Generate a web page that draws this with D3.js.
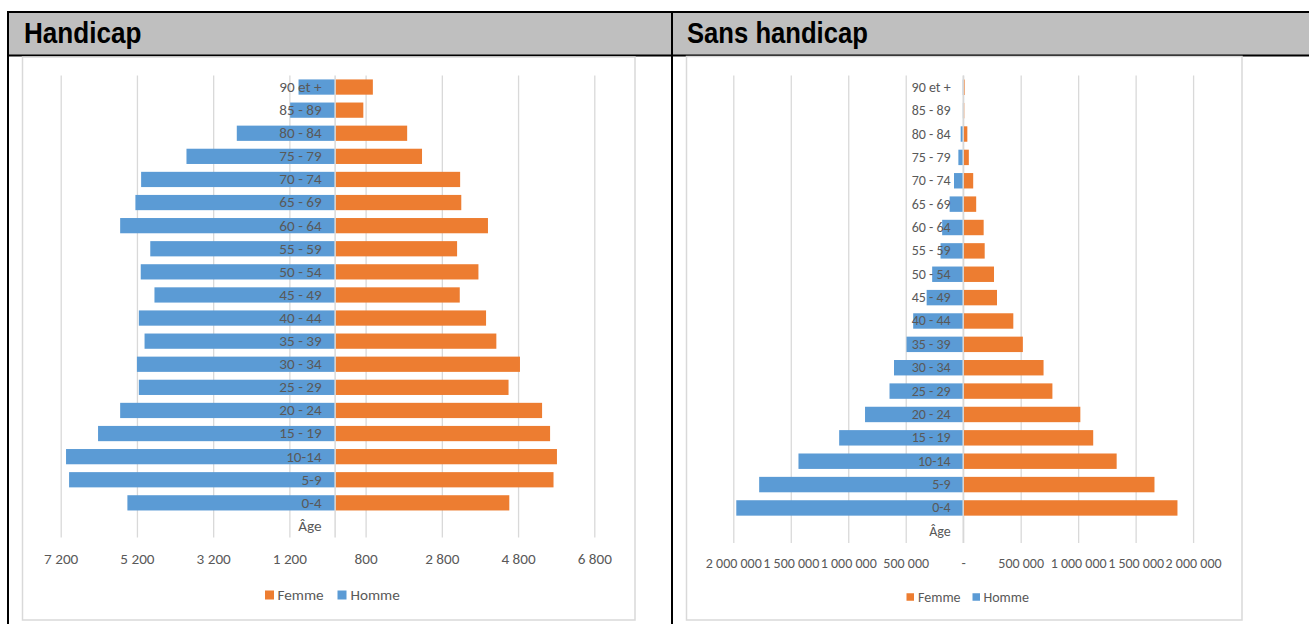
<!DOCTYPE html>
<html><head><meta charset="utf-8">
<script src="https://cdn.jsdelivr.net/npm/d3@7"></script>
<style>body{margin:0;background:#fff} svg{display:block}</style>
</head><body><svg id="c" width="1309" height="624"></svg>
<script>
const categories = ["90 et +","85 - 89","80 - 84","75 - 79","70 - 74","65 - 69","60 - 64","55 - 59","50 - 54","45 - 49","40 - 44","35 - 39","30 - 34","25 - 29","20 - 24","15 - 19","10-14","5-9","0-4"];
const axisTitle = "Âge";
const handicapHomme = [960,1180,2580,3900,5090,5240,5640,4850,5100,4740,5150,5000,5200,5150,5640,6220,7060,6980,5450];
const handicapFemme = [990,740,1890,2280,3280,3310,4010,3200,3760,3270,3960,4230,4850,4550,5430,5640,5820,5730,4570];
const sansHomme = [4000,3000,22000,42000,80000,118000,183000,197000,270000,318000,435000,493000,602000,641000,854000,1079000,1433000,1775000,1974000];
const sansFemme = [12000,9000,36000,49000,87000,113000,178000,187000,268000,294000,436000,519000,699000,776000,1019000,1131000,1335000,1664000,1864000];
const handicapTicks = [-7200,-5200,-3200,-1200,800,2800,4800,6800];
const sansTicks = [-2000000,-1500000,-1000000,-500000,0,500000,1000000,1500000,2000000];
const legendLabels = ["Femme","Homme"];
const titles = ["Handicap","Sans handicap"];

const FEMME = "#ED7D31", HOMME = "#5B9BD5", TXT = "#595959", GRID = "#D9D9D9";
const FONT = "Carlito, Calibri, Lato, sans-serif";
const svg = d3.select("#c");
const loc = d3.formatLocale({decimal: ",", thousands: " ", grouping: [3], currency: ["", ""]});
const fmt = loc.format(",d");

// table frame
svg.append("rect").attr("x", 8).attr("y", 12).attr("width", 1301).attr("height", 43.5).attr("fill", "#BFBFBF");
[[7, 12, 1309, 12], [7, 55.5, 1309, 55.5], [8, 11, 8, 624], [672, 11, 672, 624]].forEach(l =>
  svg.append("line").attr("x1", l[0]).attr("y1", l[1]).attr("x2", l[2]).attr("y2", l[3])
    .attr("stroke", "#000").attr("stroke-width", 2));
[[24, 0.87], [687, 0.855]].forEach((p, i) =>
  svg.append("text").attr("transform", `translate(${p[0]},42.5) scale(${p[1]},1)`)
    .attr("font-family", "'Liberation Sans', Arial, sans-serif").attr("font-weight", "bold")
    .attr("font-size", 30).attr("fill", "#000").text(titles[i]));

function chart(cfg) {
  const g = svg.append("g");
  g.append("rect").attr("x", cfg.box[0]).attr("y", cfg.box[1])
    .attr("width", cfg.box[2] - cfg.box[0]).attr("height", cfg.box[3] - cfg.box[1])
    .attr("fill", "#fff").attr("stroke", GRID).attr("stroke-width", 1.5);
  const x = d3.scaleLinear().domain(cfg.domain).range(cfg.xr);
  const cats = categories.concat([axisTitle]);
  const y = d3.scaleBand().domain(cats).range(cfg.yr).paddingInner(0.34).paddingOuter(0.17);
  const [y0, y1] = cfg.yr;
  // gridlines
  g.append("g").attr("transform", `translate(0,${y1})`)
    .call(d3.axisBottom(x).tickValues(cfg.ticks).tickSize(-(y1 - y0)).tickFormat(""))
    .call(a => a.select(".domain").remove())
    .call(a => a.selectAll("line").attr("stroke", GRID).attr("stroke-width", 1.3));
  // bars
  const rows = categories.map((c, i) => ({c, h: cfg.homme[i], f: cfg.femme[i]}));
  const bh = y.bandwidth();
  g.append("g").selectAll("rect").data(rows).join("rect")
    .attr("x", d => x(-d.h)).attr("y", d => y(d.c))
    .attr("width", d => x(0) - x(-d.h)).attr("height", bh).attr("fill", HOMME);
  g.append("g").selectAll("rect").data(rows).join("rect")
    .attr("x", x(0)).attr("y", d => y(d.c))
    .attr("width", d => x(d.f) - x(0)).attr("height", bh).attr("fill", FEMME);
  // category axis line
  g.append("line").attr("x1", x(0)).attr("x2", x(0)).attr("y1", y0).attr("y2", y1)
    .attr("stroke", GRID).attr("stroke-width", 1.5);
  // category labels
  const ya = g.append("g").attr("transform", `translate(${x(0)},0)`)
    .call(d3.axisLeft(y).tickSize(0).tickPadding(cfg.labelGap));
  ya.select(".domain").remove();
  ya.selectAll("text").attr("font-family", FONT).attr("font-size", cfg.fs).attr("fill", TXT);
  // value axis labels
  const xa = g.append("g").attr("transform", `translate(0,${cfg.tickY})`)
    .call(d3.axisBottom(x).tickValues(cfg.ticks).tickSize(0).tickPadding(0)
      .tickFormat(v => v === 0 ? "-" : fmt(Math.abs(v))));
  xa.select(".domain").remove();
  xa.selectAll("text").attr("font-family", FONT).attr("font-size", cfg.fs).attr("fill", TXT)
    .attr("dy", "0.35em").attr("y", 0);
  // legend
  const lg = g.append("g");
  [[FEMME, 0], [HOMME, 1]].forEach(([col, i]) => {
    const L = cfg.legend[i];
    lg.append("rect").attr("x", L[0]).attr("y", cfg.legendY - cfg.sq / 2).attr("width", cfg.sq).attr("height", cfg.sq).attr("fill", col);
    lg.append("text").attr("x", L[1]).attr("y", cfg.legendY).attr("dy", "0.35em")
      .attr("font-family", FONT).attr("font-size", cfg.fs).attr("fill", TXT).text(legendLabels[i]);
  });
}

chart({box: [22.5, 57, 635, 620], domain: [-7200, 6800], xr: [60.7, 594.3], yr: [75.5, 537.5],
  ticks: handicapTicks, homme: handicapHomme, femme: handicapFemme, fs: 15.2, labelGap: 13.5,
  tickY: 559, legendY: 595, sq: 9, legend: [[265, 277.5], [337.5, 350.5]]});
chart({box: [686.5, 56.5, 1242, 620], domain: [-2000000, 2000000], xr: [733.3, 1193.1], yr: [75.6, 543],
  ticks: sansTicks, homme: sansHomme, femme: sansFemme, fs: 14, labelGap: 12.5,
  tickY: 563, legendY: 597, sq: 7.5, legend: [[906.5, 918], [972.5, 983.5]]});
</script></body></html>
